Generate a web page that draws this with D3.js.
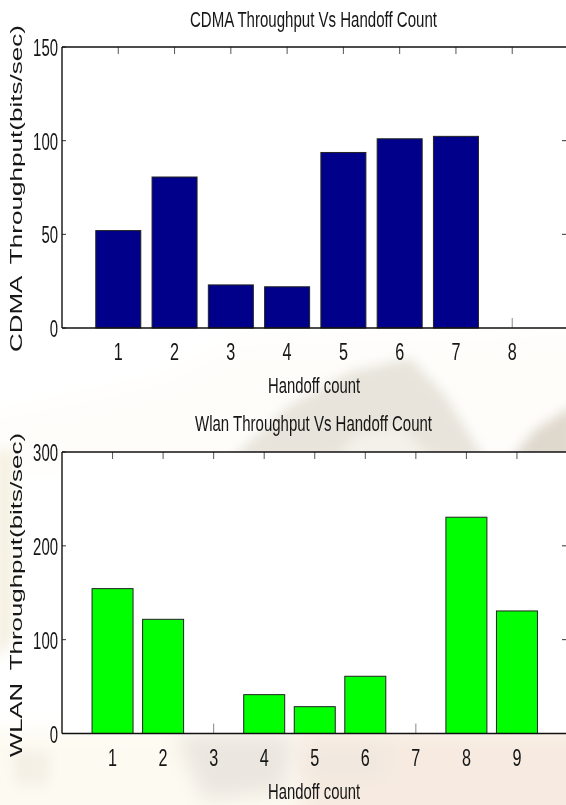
<!DOCTYPE html>
<html><head><meta charset="utf-8">
<script src="https://cdn.jsdelivr.net/npm/d3@7"></script>
<style>html,body{margin:0;padding:0;background:#fff;overflow:hidden}svg{display:block}text{font-family:"Liberation Sans",Arial,sans-serif;fill:#151515}</style>
</head><body><svg id="c" width="566" height="805"></svg>
<script>
const cdmaCategories=[1,2,3,4,5,6,7,8];
const cdmaValues=[52,80.6,23,22,93.7,101,102.3,0];
const cdmaTicks=[0,50,100,150];
const wlanCategories=[1,2,3,4,5,6,7,8,9];
const wlanValues=[154.4,121.7,0,41.4,28.6,61,0,230.5,130.6];
const wlanTicks=[0,100,200,300];

const svg=d3.select("#c");
const defs=svg.append("defs");
[["b1",10],["b2",6],["t",0.35]].forEach(([id,s])=>{
  defs.append("filter").attr("id",id).attr("x","-30%").attr("y","-30%").attr("width","160%").attr("height","160%")
    .append("feGaussianBlur").attr("stdDeviation",s);
});

// faded map backdrop
const bg=svg.append("g");
bg.append("rect").attr("width",566).attr("height",805).attr("fill","#fff");
const blobs=[
 ["M-30,420L160,380L240,340L620,330L620,460L-30,470Z","#fefdfa","b1"],
 ["M-30,730L620,730L620,840L-30,840Z","#fdfaf1","b1"],
 ["M300,730L620,730L620,840L300,840Z","#f7ebe1","b1"],
 ["M230,460L290,405L350,372L410,358L445,395L485,460Z","#e8e4db","b2"],
 ["M335,460L355,435L400,425L435,460Z","#f4f1ea","b2"],
 ["M510,460L535,430L575,405L575,460Z","#dfd8cd","b2"],
 ["M175,735L295,735L285,790L205,800Z","#ebe6df","b1"],
 ["M300,750L390,745L385,780L310,780Z","#f0e8df","b1"],
 ["M-5,450L14,450L14,640L-5,660Z","#f5f0e2","b2"],
 ["M12,750L50,752L48,785L16,785Z","#f4f0e6","b2"]
];
bg.selectAll("path").data(blobs).join("path")
  .attr("d",d=>d[0]).attr("fill",d=>d[1]).attr("filter",d=>`url(#${d[2]})`);

function panel(o){
  const x=d3.scaleLinear().domain([0,o.cats.length+1]).range([62,o.xEnd]);
  const y=d3.scaleLinear().domain([0,o.ticks[o.ticks.length-1]]).range([o.bottom,o.top]);
  const g=svg.append("g");
  g.append("rect").attr("x",62).attr("y",o.top).attr("width",504).attr("height",o.bottom-o.top).attr("fill","#fff");
  g.selectAll(".tt").data(o.cats).join("line")
    .attr("x1",x).attr("x2",x).attr("y1",o.top).attr("y2",o.top+7).attr("stroke","#555");
  g.selectAll(".bt").data(o.cats).join("line")
    .attr("x1",x).attr("x2",x).attr("y1",o.bottom).attr("y2",o.bottom-10).attr("stroke","#888");
  g.selectAll(".yl").data(o.ticks).join("line")
    .attr("x1",62).attr("x2",66).attr("y1",y).attr("y2",y).attr("stroke","#333");
  g.selectAll(".yr").data(o.ticks.slice(1,-1)).join("line")
    .attr("x1",562).attr("x2",566).attr("y1",y).attr("y2",y).attr("stroke","#333");
  g.selectAll(".bar").data(o.vals.map((v,i)=>({v,c:o.cats[i]})).filter(d=>d.v>0)).join("rect")
    .attr("x",d=>x(d.c)-o.bw/2).attr("width",o.bw)
    .attr("y",d=>y(d.v)).attr("height",d=>y(0)-y(d.v))
    .attr("fill",o.color).attr("stroke","#222").attr("stroke-width",1);
  g.append("line").attr("x1",62).attr("x2",566).attr("y1",o.top).attr("y2",o.top).attr("stroke","#111").attr("stroke-width",1.4);
  g.append("line").attr("x1",62).attr("x2",566).attr("y1",o.bottom).attr("y2",o.bottom).attr("stroke","#111").attr("stroke-width",1.6);
  g.append("line").attr("x1",62).attr("x2",62).attr("y1",o.top).attr("y2",o.bottom).attr("stroke","#111").attr("stroke-width",1.4);
  const t=g.append("g").attr("filter","url(#t)");
  const label=(sel,w)=>sel.attr("textLength",w).attr("lengthAdjust","spacingAndGlyphs");
  t.selectAll(".xl").data(o.cats).join("text")
    .attr("x",x).attr("y",o.bottom+32).attr("text-anchor","middle").attr("font-size",23)
    .attr("textLength",9).attr("lengthAdjust","spacingAndGlyphs").text(d=>d);
  t.selectAll(".ytl").data(o.ticks).join("text")
    .attr("x",d=>58-String(d).length*8.3).attr("y",d=>y(d)+9).attr("font-size",23)
    .attr("textLength",d=>String(d).length*8.3).attr("lengthAdjust","spacingAndGlyphs").text(d=>d);
  label(t.append("text").attr("x",o.titleX).attr("y",o.titleY).attr("font-size",22.5).text(o.title),o.titleW);
  label(t.append("text").attr("x",o.xlabX).attr("y",o.xlabY).attr("font-size",22).text("Handoff count"),92);
  const yl=t.append("text").attr("transform",`translate(22,${o.ylabBottom}) rotate(-90)`).attr("font-size",16.5);
  const sp=o.ylab.indexOf(" ");
  label(yl.append("tspan").text(o.ylab.slice(0,sp)),o.ylabHead);
  label(yl.append("tspan").attr("dx",o.ylabGap).text(" "+o.ylab.slice(sp+1)),o.ylabW-o.ylabHead-o.ylabGap);
}
panel({cats:cdmaCategories,vals:cdmaValues,ticks:cdmaTicks,top:47,bottom:328,xEnd:568.5,bw:45,color:"#00008b",
  title:"CDMA Throughput Vs Handoff Count",titleX:190,titleY:27,titleW:247,xlabX:268,xlabY:393,
  ylab:"CDMA Throughput(bits/sec)",ylabBottom:352,ylabW:327,ylabHead:75,ylabGap:6});
panel({cats:wlanCategories,vals:wlanValues,ticks:wlanTicks,top:452,bottom:733.5,xEnd:567.5,bw:41,color:"#00ff00",
  title:"Wlan Throughput Vs Handoff Count",titleX:195,titleY:431,titleW:237,xlabX:268,xlabY:799,
  ylab:"WLAN Throughput(bits/sec)",ylabBottom:757,ylabW:324,ylabHead:74,ylabGap:6});
</script></body></html>
